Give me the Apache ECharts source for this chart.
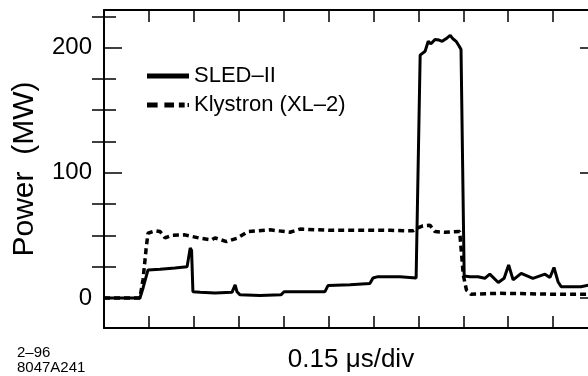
<!DOCTYPE html>
<html>
<head>
<meta charset="utf-8">
<script src="https://cdn.jsdelivr.net/npm/echarts@6/dist/echarts.min.js"></script>
<style>
  html, body { margin: 0; padding: 0; background: #fff; }
  #chart { width: 588px; height: 376px; }
</style>
</head>
<body>
<div id="chart"></div>
<script>
// time in divisions (0.15 us/div), power in MW
const sledTime = [0, 0.80, 0.87, 0.98, 1.25, 1.58, 1.85, 1.89, 1.92, 1.95, 1.98, 2.14, 2.47, 2.85, 2.92, 2.96,
  3.03, 3.47, 3.94, 4.01, 4.37, 4.92, 4.99, 5.48, 5.92, 5.99, 6.10, 6.59, 6.95, 6.98, 7.04, 7.15, 7.22, 7.28,
  7.37, 7.46, 7.53, 7.64, 7.71, 7.77, 7.84, 7.91, 7.95, 8.02, 8.15, 8.33, 8.48, 8.59, 8.78, 8.91, 9.01, 9.11,
  9.29, 9.55, 9.82, 9.93, 10.02, 10.11, 10.18, 10.62, 10.82, 10.9];
const sledPower = [0, 0, 8, 22.4, 23, 24, 25, 25, 40, 38, 5, 4.5, 4, 4.5, 10.4, 5,
  2.5, 2, 2.5, 5, 5, 5, 10, 10.5, 11.5, 16, 17, 17, 16, 16, 194, 197, 205, 203,
  206.5, 206, 205, 207.7, 209.8, 207, 205, 201, 198.4, 17.6, 17, 17, 15.7, 19, 12.3, 15.7, 26.4, 14.4,
  19.7, 15.7, 19, 16.3, 24.3, 13, 9, 9, 10.4, 11];

const klyTime = [0, 0.80, 0.87, 0.94, 0.98, 1.14, 1.25, 1.36, 1.51, 1.80, 2.14, 2.40, 2.47, 2.73, 2.96, 3.21,
  3.70, 4.14, 4.37, 5.03, 5.70, 6.37, 6.88, 6.99, 7.10, 7.26, 7.37, 7.59, 7.92, 8.00, 8.07, 8.17, 8.82, 9.27,
  9.93, 10.78, 10.9];
const klyPower = [0, 0, 15, 40, 51.7, 53.6, 53, 48, 50, 50.4, 47.7, 46.4, 48, 45, 47.7, 53,
  54.4, 52.5, 55, 54, 54, 54, 53.6, 56, 57.6, 58, 53, 52.5, 53, 18.4, 6.4, 3, 3.7, 3.5,
  3, 3, 3];

const powerLabels = [0, 100, 200];
const powerMinorTicks = [25, 50, 75, 125, 150, 175, 225];

const font = 'Liberation Sans, Arial, sans-serif';
const chart = echarts.init(document.getElementById('chart'), null, { renderer: 'canvas' });

const axisLine = { show: true, onZero: false, lineStyle: { color: '#000', width: 2 } };
const xBase = {
  type: 'value', min: 0, max: 11, interval: 1,
  axisLine,
  axisTick: { show: true, inside: true, length: 12, lineStyle: { color: '#000', width: 1.5 } },
  axisLabel: { show: false },
  splitLine: { show: false }
};
function yAxisDef(position, values, len, line, labels) {
  return {
    type: 'value', position, min: -24, max: 230,
    axisLine: line ? axisLine : { show: false },
    axisTick: { show: true, inside: true, length: len, customValues: values,
      lineStyle: { color: '#000', width: 1.5 } },
    axisLabel: labels
      ? { show: true, customValues: values, color: '#000', fontSize: 24, fontFamily: font, margin: 12 }
      : { show: false },
    splitLine: { show: false }
  };
}

chart.setOption({
  animation: false,
  backgroundColor: '#fff',
  grid: { left: 104, top: 10, width: 494, height: 318, outerBoundsMode: 'none', containLabel: false },
  legend: {
    left: 147, top: 65, padding: 0, orient: 'vertical', itemWidth: 42, itemHeight: 5, itemGap: 7,
    textStyle: { fontSize: 22, lineHeight: 22, fontFamily: font, color: '#000' },
    data: [
      { name: 'SLED–II', icon: 'rect' },
      { name: 'Klystron (XL–2)', icon: 'path://M0,0h11v5h-11z M18,0h10v5h-10z M33,0h6v5h-6z M42,0.5h1.5v4h-1.5z' }
    ]
  },
  xAxis: [
    Object.assign({}, xBase, {
      position: 'bottom',
      name: '0.15 μs/div', nameLocation: 'middle', nameGap: 19,
      nameTextStyle: { fontSize: 26, fontFamily: font, color: '#000' }
    }),
    Object.assign({}, xBase, { position: 'top' })
  ],
  yAxis: [
    Object.assign(yAxisDef('left', powerLabels, 18, true, true), {
      name: 'Power  (MW)', nameLocation: 'middle', nameRotate: 90, nameGap: 64,
      nameTextStyle: { fontSize: 30, fontFamily: font, color: '#000' }
    }),
    yAxisDef('left', powerMinorTicks, 12, false, false),
    yAxisDef('right', powerLabels, 18, true, false),
    yAxisDef('right', powerMinorTicks, 12, false, false)
  ],
  graphic: [
    { type: 'text', left: 17, top: 345, style: { text: '2–96', fontSize: 15, fontFamily: font, fill: '#000' } },
    { type: 'text', left: 17, top: 360, style: { text: '8047A241', fontSize: 15, fontFamily: font, fill: '#000' } }
  ],
  series: [
    {
      name: 'SLED–II', type: 'line', symbol: 'none', xAxisIndex: 0, yAxisIndex: 0,
      data: sledTime.map((t, i) => [t, sledPower[i]]),
      lineStyle: { color: '#000', width: 3 }, itemStyle: { color: '#000' }, z: 3
    },
    {
      name: 'Klystron (XL–2)', type: 'line', symbol: 'none', xAxisIndex: 0, yAxisIndex: 0,
      data: klyTime.map((t, i) => [t, klyPower[i]]),
      lineStyle: { color: '#000', width: 3.5, type: [6, 4] }, itemStyle: { color: '#000' }, z: 2
    }
  ]
});
</script>
</body>
</html>
